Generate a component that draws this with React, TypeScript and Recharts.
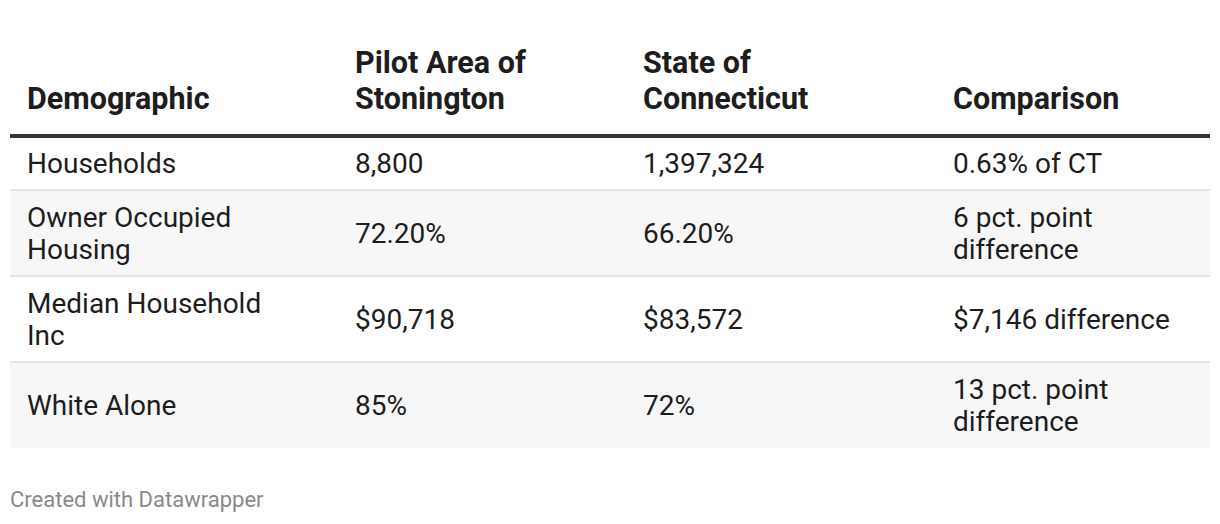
import { ComposedChart, ReferenceArea, ReferenceLine, Scatter, XAxis, YAxis } from "recharts";

const COLUMNS = ["Demographic", "Pilot Area of Stonington", "State of Connecticut", "Comparison"];
const DEMOGRAPHICS = ["Households", "Owner Occupied Housing", "Median Household Inc", "White Alone"];
const PILOT_AREA = ["8,800", "72.20%", "$90,718", "85%"];
const CONNECTICUT = ["1,397,324", "66.20%", "$83,572", "72%"];
const COMPARISON = ["0.63% of CT", "6 pct. point difference", "$7,146 difference", "13 pct. point difference"];

const WIDTH = 1220;
const HEIGHT = 524;
const COL_WIDTHS = [328, 288, 310, 274];
const WRAP_WIDTHS = [258, 240, 240, 240];
const CELL_PAD = 17;
const LINE_H = 32;
const HEADER_LINE_H = 36;
const BODY_SIZE = 28;
const HEADER_SIZE = 30.5;
const ROW_PAD = 22 / LINE_H;
const TOP = 136;
const FONT = "Roboto, 'Noto Sans', sans-serif";
const TEXT_COLOR = "#1d1d1d";

const measureCtx = typeof document !== "undefined" ? document.createElement("canvas").getContext("2d") : null;

function wrap(text: string, font: string, maxWidth: number): string[] {
  if (!measureCtx) return [text];
  measureCtx.font = font;
  const lines: string[] = [];
  let current = "";
  for (const word of text.split(" ")) {
    const next = current ? `${current} ${word}` : word;
    if (current && measureCtx.measureText(next).width > maxWidth) {
      lines.push(current);
      current = word;
    } else {
      current = next;
    }
  }
  if (current) lines.push(current);
  return lines;
}

const colLeft = COL_WIDTHS.map((_, i) => COL_WIDTHS.slice(0, i).reduce((a, b) => a + b, 0));
const tableWidth = COL_WIDTHS.reduce((a, b) => a + b, 0);

const rows = DEMOGRAPHICS.map((label, i) => {
  const cells = [label, PILOT_AREA[i], CONNECTICUT[i], COMPARISON[i]].map((t, j) =>
    wrap(t, `400 ${BODY_SIZE}px Roboto`, WRAP_WIDTHS[j])
  );
  const lines = Math.max(...cells.map((c) => c.length));
  return { cells, span: lines + ROW_PAD };
});

const bounds: number[] = [0];
rows.forEach((r) => bounds.push(bounds[bounds.length - 1] + r.span));
const bodyUnits = bounds[bounds.length - 1];

const bodyCells = rows.flatMap((r, i) =>
  r.cells.map((lines, j) => ({ x: colLeft[j] + CELL_PAD, y: (bounds[i] + bounds[i + 1]) / 2, lines }))
);
const headerCells = COLUMNS.map((t, j) => ({
  x: colLeft[j] + CELL_PAD,
  y: 0,
  lines: wrap(t, `700 ${HEADER_SIZE}px Roboto`, WRAP_WIDTHS[j]),
}));

function BodyCell(props: any) {
  const { cx, cy, payload } = props;
  const n = payload.lines.length;
  return (
    <text x={cx} fontSize={BODY_SIZE} fontFamily={FONT} fill={TEXT_COLOR}>
      {payload.lines.map((line: string, i: number) => (
        <tspan key={i} x={cx} y={cy + 10 + (i - (n - 1) / 2) * LINE_H}>
          {line}
        </tspan>
      ))}
    </text>
  );
}

function HeaderCell(props: any) {
  const { cx, cy, payload } = props;
  const n = payload.lines.length;
  return (
    <text x={cx} fontSize={HEADER_SIZE} fontWeight={700} fontFamily={FONT} fill={TEXT_COLOR}>
      {payload.lines.map((line: string, i: number) => (
        <tspan key={i} x={cx} y={cy - 27 - (n - 1 - i) * HEADER_LINE_H}>
          {line}
        </tspan>
      ))}
    </text>
  );
}

export default function App() {
  const bottom = HEIGHT - TOP - bodyUnits * LINE_H;
  return (
    <div style={{ position: "relative", width: WIDTH, height: HEIGHT, background: "#fff", fontFamily: FONT }}>
      <style>{`body{margin:0}`}</style>
      <ComposedChart width={WIDTH} height={HEIGHT} margin={{ top: TOP, right: 10, bottom, left: 10 }}>
        <XAxis type="number" dataKey="x" domain={[0, tableWidth]} hide />
        <YAxis type="number" dataKey="y" domain={[0, bodyUnits]} reversed hide />
        {rows.map((_, i) =>
          i % 2 === 1 ? (
            <ReferenceArea key={`bg${i}`} y1={bounds[i]} y2={bounds[i + 1]} fill="#f7f7f7" fillOpacity={1} stroke="none" />
          ) : null
        )}
        {bounds.slice(1, -1).map((b, i) => (
          <ReferenceLine key={`sep${i}`} y={b} stroke="#e6e6e6" strokeWidth={2} />
        ))}
        <ReferenceLine y={0} stroke="#333333" strokeWidth={4} />
        <Scatter data={bodyCells} shape={BodyCell} isAnimationActive={false} />
        <Scatter data={headerCells} shape={HeaderCell} isAnimationActive={false} />
      </ComposedChart>
      <div
        style={{
          position: "absolute",
          left: 10,
          top: 489,
          fontSize: 22,
          lineHeight: "22px",
          color: "#8a8a8a",
        }}
      >
        Created with Datawrapper
      </div>
    </div>
  );
}
